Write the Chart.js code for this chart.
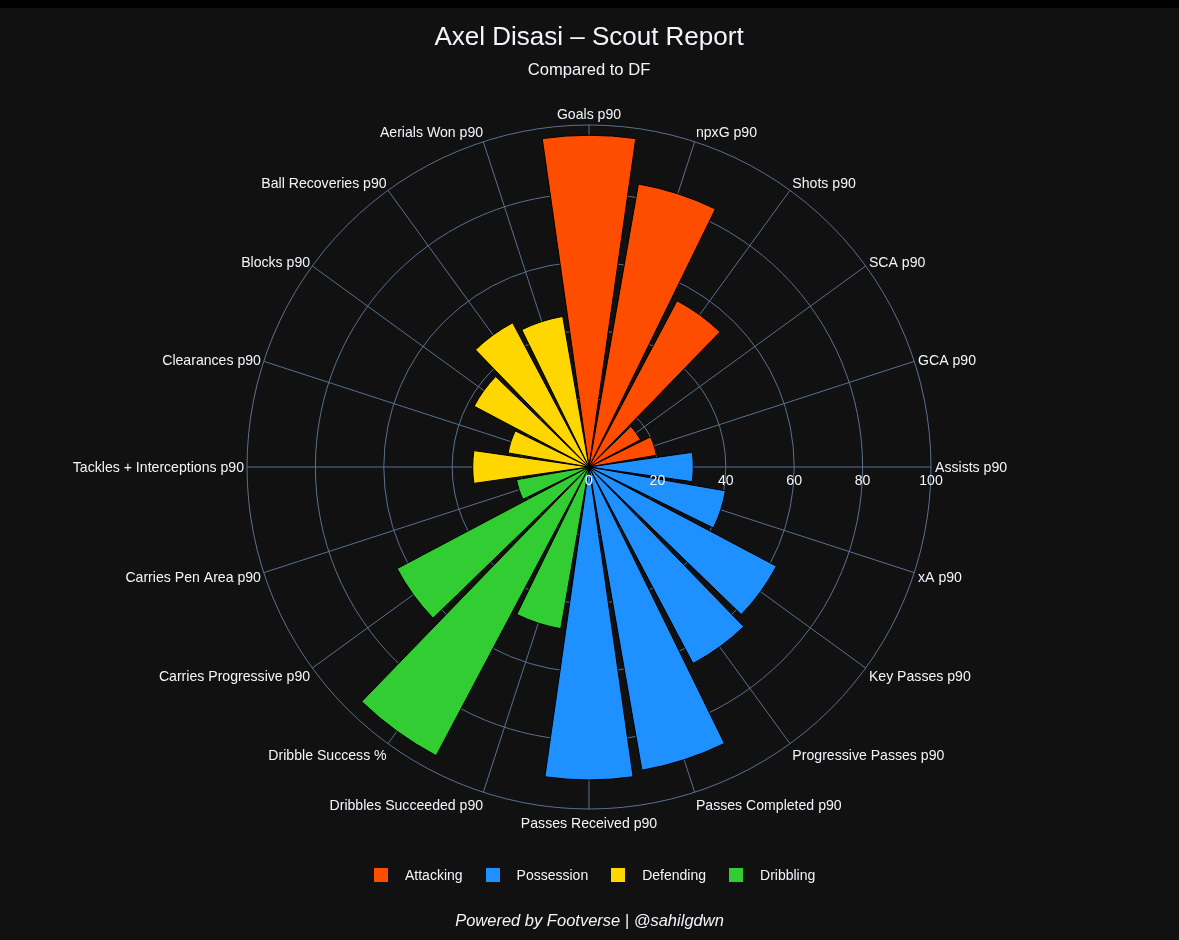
<!DOCTYPE html>
<html>
<head>
<meta charset="utf-8">
<title>Axel Disasi – Scout Report</title>
<script src="https://cdn.jsdelivr.net/npm/chart.js@4"></script>
<style>
    html, body { margin: 0; padding: 0; background: #111111; width: 1179px; height: 940px; overflow: hidden; }
    body { position: relative; font-family: "Liberation Sans", Arial, sans-serif; color: #f2f5fa; }
    #strip { position: absolute; left: 0; top: 0; width: 1179px; height: 8px; background: #000; }
    #chart { position: absolute; left: 0; top: 0; }
    #legend { position: absolute; left: 374px; top: 866px; display: flex; gap: 23px; font-size: 14px; line-height: 18px; }
    #legend div { display: flex; align-items: center; gap: 17px; }
    #legend i { display: block; width: 14px; height: 14px; }
    #footer { position: absolute; left: 0; width: 1179px; top: 910px; text-align: center; font-size: 16.5px; line-height: 20px; font-style: italic; }
</style>
</head>
<body>
<div id="strip"></div>
<canvas id="chart" width="1179" height="940"></canvas>
<div id="legend"></div>
<div id="footer">Powered by Footverse | @sahilgdwn</div>
<script>
// clockwise from the top
const categories = ['Goals p90', 'npxG p90', 'Shots p90', 'SCA p90', 'GCA p90', 'Assists p90', 'xA p90', 'Key Passes p90',
    'Progressive Passes p90', 'Passes Completed p90', 'Passes Received p90', 'Dribbles Succeeded p90', 'Dribble Success %',
    'Carries Progressive p90', 'Carries Pen Area p90', 'Tackles + Interceptions p90', 'Clearances p90', 'Blocks p90',
    'Ball Recoveries p90', 'Aerials Won p90'];
const values = [97, 84, 55, 17, 20, 30.5, 40.5, 62, 65, 90, 91.5, 48, 95.5, 63.5, 21.5, 34, 24, 38, 47.7, 44.7];
const groups = ['Attacking', 'Attacking', 'Attacking', 'Attacking', 'Attacking', 'Possession', 'Possession', 'Possession',
    'Possession', 'Possession', 'Possession', 'Dribbling', 'Dribbling', 'Dribbling', 'Dribbling', 'Defending', 'Defending',
    'Defending', 'Defending', 'Defending'];
const legendGroups = ['Attacking', 'Possession', 'Defending', 'Dribbling'];
const groupColors = { Attacking: '#FF4D00', Possession: '#1E90FF', Defending: '#FFD700', Dribbling: '#32CD32' };
const radialTicks = [0, 20, 40, 60, 80, 100];

const textColor = '#f2f5fa';
const gridColor = '#5a7190';
const fontFamily = '"Liberation Sans", Arial, sans-serif';
const barAngle = 16.2; // degrees, the rest of each 18 degree step is a gap

// polarArea fills the whole circle, so every bar gets an empty slice before it to leave the gap.
// Bars sit on the odd indexes, which land on the label angles because the scale starts at -9
const labels = categories.flatMap(c => ['', c]);
const data = values.flatMap(v => [0, v]);
const colors = groups.flatMap(g => ['transparent', groupColors[g]]);
const angles = categories.flatMap((c, i) => [i === 0 ? (18 - barAngle) / 2 : 18 - barAngle, barAngle]);

// Text around the circle and along the east axis, Chart.js would rotate its own tick labels
const polarText = {
    id: 'polarText',
    afterDatasetsDraw(chart) {
        const { ctx } = chart;
        const scale = chart.scales.r;
        ctx.save();
        ctx.fillStyle = textColor;
        ctx.font = '14.1px ' + fontFamily;
        ctx.textBaseline = 'middle';

        categories.forEach((name, i) => {
            const p = scale.getPointPositionForValue(i * 2 + 1, 100);
            const rad = i * 18 * Math.PI / 180;
            const sin = Math.sin(rad);
            const cos = Math.cos(rad);
            ctx.textAlign = Math.abs(sin) < 0.01 ? 'center' : (sin > 0 ? 'left' : 'right');
            const nudge = sin < -0.01 ? 1 : 0;
            // labels sit a bit further out below the centre than above it
            const dy = cos > 0 ? -cos * cos * 10.5 : -cos * 14;
            ctx.fillText(name, p.x + sin * 4 + nudge, p.y + dy + 1);
        });

        ctx.textAlign = 'center';
        radialTicks.forEach(t => {
            ctx.fillText(String(t), scale.xCenter + scale.getDistanceFromCenterForValue(t), scale.yCenter + 14);
        });
        ctx.restore();
    },
};

new Chart(document.getElementById('chart').getContext('2d'), {
    type: 'polarArea',
    data: {
        labels: labels,
        datasets: [{
            data: data,
            backgroundColor: colors,
            borderColor: '#000000',
            borderWidth: ctx => (ctx.dataIndex % 2 ? 1 : 0),
            borderJoinStyle: 'miter',
            angle: ctx => angles[ctx.dataIndex],
        }],
    },
    options: {
        responsive: false,
        animation: false,
        layout: { padding: { left: 247, right: 248, bottom: 130 } },
        scales: {
            r: {
                min: 0,
                max: 100,
                startAngle: -9,
                ticks: { display: false, stepSize: 20 },
                pointLabels: { display: false },
                grid: { color: gridColor, lineWidth: 1, circular: true },
                angleLines: {
                    display: true,
                    lineWidth: 1,
                    color: ctx => (ctx.index % 2 ? gridColor : 'transparent'),
                },
            },
        },
        plugins: {
            legend: { display: false },
            tooltip: { enabled: false },
            title: {
                display: true,
                text: 'Axel Disasi – Scout Report',
                color: textColor,
                font: { family: fontFamily, size: 26, weight: 'normal', lineHeight: 1.2 },
                padding: { top: 22, bottom: 0 },
            },
            subtitle: {
                display: true,
                text: 'Compared to DF',
                color: textColor,
                font: { family: fontFamily, size: 16.6, weight: 'normal', lineHeight: 1.2 },
                padding: { top: 6.8, bottom: 46 },
            },
        },
    },
    plugins: [polarText],
});

// Legend built by hand, Chart.js would list one entry per slice
const legendEl = document.getElementById('legend');
legendGroups.forEach(g => {
    const item = document.createElement('div');
    const swatch = document.createElement('i');
    swatch.style.background = groupColors[g];
    const text = document.createElement('span');
    text.textContent = g;
    item.append(swatch, text);
    legendEl.append(item);
});
</script>
</body>
</html>
